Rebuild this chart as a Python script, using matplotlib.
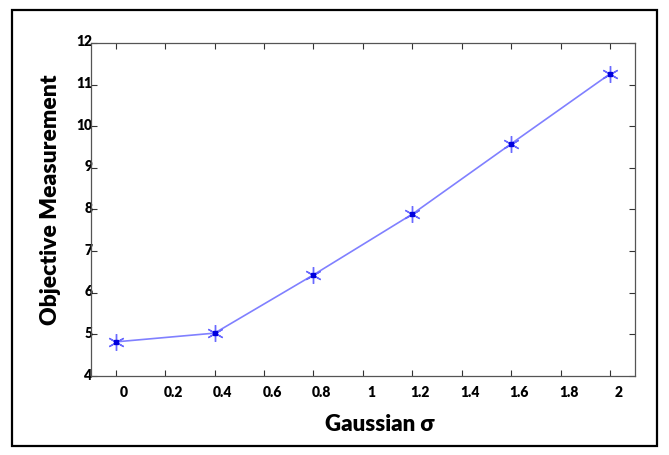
import numpy as np
import matplotlib
matplotlib.use('Agg')
import matplotlib.pyplot as plt
import matplotlib.transforms as mtransforms
from matplotlib.patches import Rectangle

# 數據：高斯 sigma 與客觀測量值
sigma = [0.0, 0.4, 0.8, 1.2, 1.6, 2.0]
measurement = [4.82, 5.03, 6.43, 7.89, 9.58, 11.26]

x_ticks = [0, 0.2, 0.4, 0.6, 0.8, 1, 1.2, 1.4, 1.6, 1.8, 2]
x_ticklabels = ['0', '0.2', '0.4', '0.6', '0.8', '1', '1.2', '1.4', '1.6', '1.8', '2']
y_ticks = [4, 5, 6, 7, 8, 9, 10, 11, 12]

plt.rcParams['font.family'] = ['Lato', 'DejaVu Sans']

fig = plt.figure(figsize=(6.69, 4.55), dpi=100)
ax = fig.add_axes([0.136, 0.1736, 0.813, 0.732])

# 外框
fig.patches.append(Rectangle((12 / 669, 1 - 446 / 455), 645 / 669, 436 / 455,
                             transform=fig.transFigure, fill=False,
                             edgecolor='black', linewidth=1.6))

ax.plot(sigma, measurement, color='#8080ff', linewidth=1.2, zorder=2)
ax.plot(sigma, measurement, linestyle='none', marker=(6, 2, 0), markersize=12,
        markeredgecolor='#6a6aff', markeredgewidth=1.0, zorder=3)
ax.plot(sigma, measurement, linestyle='none', marker='s', markersize=2.5,
        color='#0000dd', zorder=4)

ax.set_xlim(-0.1, 2.1)
ax.set_ylim(4, 12)
ax.set_xticks(x_ticks)
ax.set_xticklabels(x_ticklabels)
ax.set_yticks(y_ticks)

ax.tick_params(direction='in', length=4, width=0.8, color='#333333',
               top=True, right=True, labelsize=10)
ax.tick_params(axis='x', pad=7)
ax.tick_params(axis='y', pad=-1)
for lab in ax.get_xticklabels() + ax.get_yticklabels():
    lab.set_fontweight('heavy')

# x 刻度標籤向右偏移
offset = mtransforms.ScaledTranslation(8 / 100, 0, fig.dpi_scale_trans)
for lab in ax.get_xticklabels():
    lab.set_transform(lab.get_transform() + offset)
yoff = mtransforms.ScaledTranslation(0, 2 / 100, fig.dpi_scale_trans)
for lab in ax.get_yticklabels():
    lab.set_transform(lab.get_transform() + yoff)

for s in ax.spines.values():
    s.set_color('#555555')
    s.set_linewidth(0.9)

ax.set_xlabel('Gaussian σ', fontsize=16, fontweight='heavy')
ax.xaxis.set_label_coords(0.53, -0.115)
ax.set_ylabel('Objective Measurement', fontsize=16.5, fontweight='heavy')
ax.yaxis.set_label_coords(-0.055, 0.53)

fig.savefig('out.png', dpi=100)
